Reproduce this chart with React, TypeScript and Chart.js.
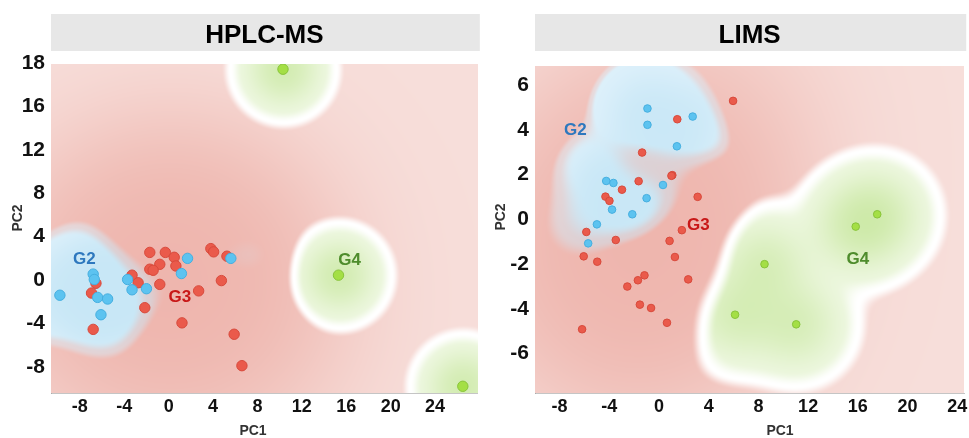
import React, { useEffect, useRef } from 'react';
import { Chart, registerables } from 'chart.js';

Chart.register(...registerables);

type Pt = [number, number];

// ---------- ticks ----------
const xTickValues = [-8, -4, 0, 4, 8, 12, 16, 20, 24];
const xTickLabels = ['-8', '-4', '0', '4', '8', '12', '16', '20', '24'];
const hplcYTickValues = [20, 16, 12, 8, 4, 0, -4, -8];
const hplcYTickLabels = ['18', '16', '12', '8', '4', '0', '-4', '-8'];
const limsYTickValues = [6, 4, 2, 0, -2, -4, -6];
const limsYTickLabels = ['6', '4', '2', '0', '-2', '-4', '-6'];

const groupNames = ['G2', 'G3', 'G4'];

// ---------- HPLC-MS scores (PC1, PC2) ----------
const hplcG2: Pt[] = [
  [-9.8, -1.4], [-6.8, 0.55], [-6.7, 0.05], [-6.4, -1.6], [-5.5, -1.75], [-6.1, -3.2],
  [-3.7, 0.05], [-3.3, -0.9], [-2.0, -0.8], [1.7, 2.0], [1.15, 0.6], [5.6, 2.0],
];
const hplcG3: Pt[] = [
  [-1.7, 2.55], [-0.3, 2.55], [0.5, 2.1], [0.65, 1.3], [-0.8, 1.45], [-1.7, 1.0], [-1.4, 0.9],
  [-3.3, 0.45], [-2.75, -0.25], [-0.8, -0.4], [-6.55, -0.3], [-6.95, -1.2], [-6.8, -4.55],
  [-2.15, -2.55], [2.7, -1.0], [1.2, -3.95], [3.8, 2.9], [4.05, 2.6], [5.25, 2.2], [4.75, -0.05],
  [5.9, -5.0], [6.6, -7.9],
];
const hplcG4: Pt[] = [[10.3, 19.45], [15.3, 0.45], [26.5, -9.8]];
const hplcLabelAt: Pt[] = [[-7.6, 2.0], [1.0, -1.45], [16.3, 1.9]];

// ---------- LIMS scores (PC1, PC2) ----------
const limsG2: Pt[] = [
  [-0.93, 4.96], [-0.93, 4.23], [2.71, 4.6], [1.44, 3.27], [-4.25, 1.72], [-3.67, 1.63],
  [0.32, 1.54], [-1.0, 0.95], [-3.78, 0.44], [-2.15, 0.23], [-5.0, -0.22], [-5.7, -1.07],
];
const limsG3: Pt[] = [
  [5.96, 5.3], [1.47, 4.48], [-1.36, 2.99], [1.07, 1.98], [1.0, 1.95], [-1.64, 1.71], [-2.98, 1.33],
  [-4.31, 1.02], [-3.99, 0.83], [3.11, 1.01], [-5.85, -0.56], [-6.06, -1.65], [-4.97, -1.89],
  [-3.48, -0.92], [1.84, -0.48], [0.85, -0.96], [1.28, -1.68], [2.35, -2.68], [-1.17, -2.5],
  [-1.7, -2.72], [-2.55, -3.0], [-1.54, -3.81], [-0.64, -3.96], [0.64, -4.62], [-6.19, -4.91],
];
const limsG4: Pt[] = [[17.56, 0.23], [15.83, -0.32], [8.49, -2.0], [6.12, -4.26], [11.04, -4.69]];
const limsLabelAt: Pt[] = [[-6.73, 4.06], [3.17, -0.22], [16.0, -1.71]];

// ---------- styles ----------
const FONT = '"Liberation Sans", Arial, Helvetica, sans-serif';
const POINT_FILL = ['#5CC3F0', '#EA5A4B', '#A4DF45'];
const POINT_EDGE = ['#46AFE0', '#D84A3C', '#88C43A'];
const LABEL_COLOR = ['#2E78BE', '#C81818', '#4E8C2C'];

const BLUE_LO = [223, 241, 251];
const BLUE_HI = [200, 231, 246];
const RED_LO = [247, 222, 218];
const RED_HI = [238, 180, 172];
const GREEN_LO = [242, 249, 232];
const GREEN_HI = [190, 227, 142];

interface FieldCfg {
  sigR: number; sigB: number; sigG: number; sigI: number;
  wB: number; wG: number; eps: number; kI: number; kB: number; kG: number;
  m0B: number; m0R: number; m0G: number;
}

interface PanelCfg {
  title: string;
  groups: Pt[][];
  labelAt: Pt[];
  yTicks: number[];
  yLabels: string[];
  xMin: number; xMax: number; yMin: number; yMax: number;
  radius: number;
  top: number;
  yTitle: [number, number];
  xTitle: [number, number];
  field: FieldCfg;
}

const panels: PanelCfg[] = [
  {
    title: 'HPLC-MS',
    groups: [hplcG2, hplcG3, hplcG4],
    labelAt: hplcLabelAt,
    yTicks: hplcYTickValues,
    yLabels: hplcYTickLabels,
    xMin: -10.6, xMax: 27.85, yMin: -10.42, yMax: 19.93,
    radius: 5.2,
    top: 64,
    yTitle: [17, 218],
    xTitle: [253, 430],
    field: { sigR: 30, sigB: 24, sigG: 22, sigI: 85, wB: 2.5, wG: 2.7, eps: 0.15, kI: 6, kB: 2, kG: 3, m0B: 0.4, m0R: 1.1, m0G: 1.5 },
  },
  {
    title: 'LIMS',
    groups: [limsG2, limsG3, limsG4],
    labelAt: limsLabelAt,
    yTicks: limsYTickValues,
    yLabels: limsYTickLabels,
    xMin: -9.98, xMax: 24.56, yMin: -7.76, yMax: 6.86,
    radius: 3.8,
    top: 66,
    yTitle: [16, 217],
    xTitle: [296, 430],
    field: { sigR: 26, sigB: 24, sigG: 27, sigI: 85, wB: 1.8, wG: 2, eps: 0.15, kI: 6, kB: 2, kG: 3, m0B: 0.4, m0R: 1.1, m0G: 1.5 },
  },
];

function mix(a: number[], b: number[], t: number): number[] {
  return [a[0] + (b[0] - a[0]) * t, a[1] + (b[1] - a[1]) * t, a[2] + (b[2] - a[2]) * t];
}

function renderField(chart: any, cfg: PanelCfg): HTMLCanvasElement {
  const a = chart.chartArea;
  const L = Math.round(a.left), T = Math.round(a.top);
  const W = Math.round(a.right) - L, H = Math.round(a.bottom) - T;
  const xs = chart.scales.x, ys = chart.scales.y;
  const toPx = (g: Pt[]) => g.map((p) => [xs.getPixelForValue(p[0]) - L, ys.getPixelForValue(p[1]) - T]);
  const blue = toPx(cfg.groups[0]);
  const red = toPx(cfg.groups[1]);
  const green = toPx(cfg.groups[2]);
  const f = cfg.field;
  const aR = 1 / (2 * f.sigR * f.sigR);
  const aB = 1 / (2 * f.sigB * f.sigB);
  const aG = 1 / (2 * f.sigG * f.sigG);
  const aI = 1 / (2 * f.sigI * f.sigI);
  const M0 = [f.m0B, f.m0R, f.m0G];
  const off = document.createElement('canvas');
  off.width = W; off.height = H;
  const octx = off.getContext('2d')!;
  const img = octx.createImageData(W, H);
  const d = img.data;
  const s = [0, 0, 0];
  let sI = 0;
  const colorFor = (k: number) => {
    if (k === 0) return mix(BLUE_LO, BLUE_HI, 1 - Math.exp(-s[0] / f.kB));
    if (k === 1) return mix(RED_LO, RED_HI, 1 - Math.exp(-sI / f.kI));
    return mix(GREEN_LO, GREEN_HI, 1 - Math.exp(-s[2] / f.kG));
  };
  for (let j = 0; j < H; j++) {
    for (let i = 0; i < W; i++) {
      let sR = 0, sB = 0, sG = 0;
      sI = 0;
      for (let n = 0; n < red.length; n++) {
        const dx = i - red[n][0], dy = j - red[n][1];
        const q = dx * dx + dy * dy;
        sR += Math.exp(-q * aR);
        sI += Math.exp(-q * aI);
      }
      for (let n = 0; n < blue.length; n++) {
        const dx = i - blue[n][0], dy = j - blue[n][1];
        sB += Math.exp(-(dx * dx + dy * dy) * aB);
      }
      for (let n = 0; n < green.length; n++) {
        const dx = i - green[n][0], dy = j - green[n][1];
        sG += Math.exp(-(dx * dx + dy * dy) * aG);
      }
      s[0] = sB * f.wB + 1e-12;
      s[1] = sR + f.eps;
      s[2] = sG * f.wG + 1e-12;
      let w = 1;
      if (s[0] > s[w]) w = 0;
      if (s[2] > s[w]) w = 2;
      let sec = -1;
      for (let k = 0; k < 3; k++) if (k !== w && (sec < 0 || s[k] > s[sec])) sec = k;
      const cw = colorFor(w);
      const cs = colorFor(sec);
      const m = Math.log(s[w] / s[sec]);
      const m0 = Math.min(M0[w], M0[sec]);
      let fd = Math.min(1, m / m0);
      fd = fd * fd * (3 - 2 * fd);
      const neutral = w === 2 || sec === 2 ? [255, 255, 255] : mix(cs, cw, 0.5);
      const c = mix(neutral, cw, fd);
      const idx = (j * W + i) * 4;
      d[idx] = c[0]; d[idx + 1] = c[1]; d[idx + 2] = c[2]; d[idx + 3] = 255;
    }
  }
  octx.putImageData(img, 0, 0);
  return off;
}

function makeConfig(cfg: PanelCfg): any {
  const fieldPlugin = {
    id: 'field',
    beforeDatasetsDraw(chart: any) {
      const a = chart.chartArea;
      if (!chart.$fieldCanvas) chart.$fieldCanvas = renderField(chart, cfg);
      chart.ctx.drawImage(chart.$fieldCanvas, Math.round(a.left), Math.round(a.top));
    },
  };
  const decorPlugin = {
    id: 'decor',
    beforeDraw(chart: any) {
      const ctx = chart.ctx;
      const a = chart.chartArea;
      ctx.save();
      ctx.fillStyle = '#E7E7E7';
      ctx.fillRect(a.left, 14, a.right - a.left + 2, 37);
      ctx.fillStyle = '#000';
      ctx.font = `bold 26px ${FONT}`;
      ctx.textAlign = 'center';
      ctx.textBaseline = 'alphabetic';
      ctx.fillText(cfg.title, (a.left + a.right) / 2, 43);
      ctx.restore();
    },
    afterDatasetsDraw(chart: any) {
      const ctx = chart.ctx;
      const xs = chart.scales.x, ys = chart.scales.y;
      ctx.save();
      ctx.font = `bold 17px ${FONT}`;
      ctx.textAlign = 'center';
      ctx.textBaseline = 'alphabetic';
      cfg.labelAt.forEach((p, k) => {
        ctx.fillStyle = LABEL_COLOR[k];
        ctx.fillText(groupNames[k], xs.getPixelForValue(p[0]), ys.getPixelForValue(p[1]) + 6);
      });
      ctx.restore();
    },
    afterDraw(chart: any) {
      const ctx = chart.ctx;
      ctx.save();
      ctx.fillStyle = '#333';
      ctx.font = `bold 14px ${FONT}`;
      ctx.textAlign = 'center';
      ctx.textBaseline = 'alphabetic';
      ctx.fillText('PC1', cfg.xTitle[0], cfg.xTitle[1] + 5);
      ctx.translate(cfg.yTitle[0], cfg.yTitle[1]);
      ctx.rotate(-Math.PI / 2);
      ctx.fillText('PC2', 0, 5);
      ctx.restore();
    },
  };

  const datasets = [0, 1, 2].map((k) => ({
    label: groupNames[k],
    data: cfg.groups[k].map((p) => ({ x: p[0], y: p[1] })),
    backgroundColor: POINT_FILL[k],
    borderColor: POINT_EDGE[k],
    borderWidth: 1,
    pointRadius: cfg.radius,
    pointHoverRadius: cfg.radius,
  }));

  const tickFont = { family: FONT, weight: 'bold' as const };

  return {
    type: 'scatter',
    data: { datasets },
    plugins: [fieldPlugin, decorPlugin],
    options: {
      responsive: false,
      animation: false,
      devicePixelRatio: 1,
      layout: { padding: { top: cfg.top, right: 3, left: 0, bottom: 0 } },
      plugins: {
        legend: { display: false },
        tooltip: { enabled: false },
        title: { display: false },
      },
      scales: {
        x: {
          type: 'linear',
          min: cfg.xMin,
          max: cfg.xMax,
          afterBuildTicks: (sc: any) => { sc.ticks = xTickValues.map((v) => ({ value: v })); },
          afterFit: (sc: any) => { sc.height = 45; sc.paddingLeft = 0; sc.paddingRight = 0; },
          ticks: {
            autoSkip: false,
            maxRotation: 0,
            padding: 3,
            color: '#111',
            font: { ...tickFont, size: 18 },
            callback: (v: number) => xTickLabels[xTickValues.indexOf(v)] ?? '',
          },
          grid: { display: false, drawTicks: false },
          border: { display: true, color: 'rgba(150,150,150,0.55)' },
        },
        y: {
          type: 'linear',
          min: cfg.yMin,
          max: cfg.yMax,
          afterBuildTicks: (sc: any) => { sc.ticks = cfg.yTicks.map((v) => ({ value: v })); },
          afterFit: (sc: any) => { sc.width = 51; sc.paddingTop = 0; sc.paddingBottom = 0; },
          ticks: {
            autoSkip: false,
            padding: 6,
            color: '#111',
            font: { ...tickFont, size: 21 },
            callback: (v: number) => cfg.yLabels[cfg.yTicks.indexOf(v)] ?? '',
          },
          grid: { display: false, drawTicks: false },
          border: { display: true, color: 'rgba(150,150,150,0.55)' },
        },
      },
    },
  };
}

function Panel({ cfg, left, width }: { cfg: PanelCfg; left: number; width: number }) {
  const ref = useRef<HTMLCanvasElement>(null);
  useEffect(() => {
    const canvas = ref.current;
    if (!canvas) return;
    const chart = new Chart(canvas, makeConfig(cfg));
    return () => chart.destroy();
  }, [cfg]);
  return (
    <canvas
      ref={ref}
      width={width}
      height={438}
      style={{ position: 'absolute', left, top: 0, width, height: 438 }}
    />
  );
}

export default function App() {
  return (
    <div style={{ position: 'absolute', left: 0, top: 0, width: 969, height: 438, background: '#fff' }}>
      <Panel cfg={panels[0]} left={0} width={484} />
      <Panel cfg={panels[1]} left={484} width={485} />
    </div>
  );
}
